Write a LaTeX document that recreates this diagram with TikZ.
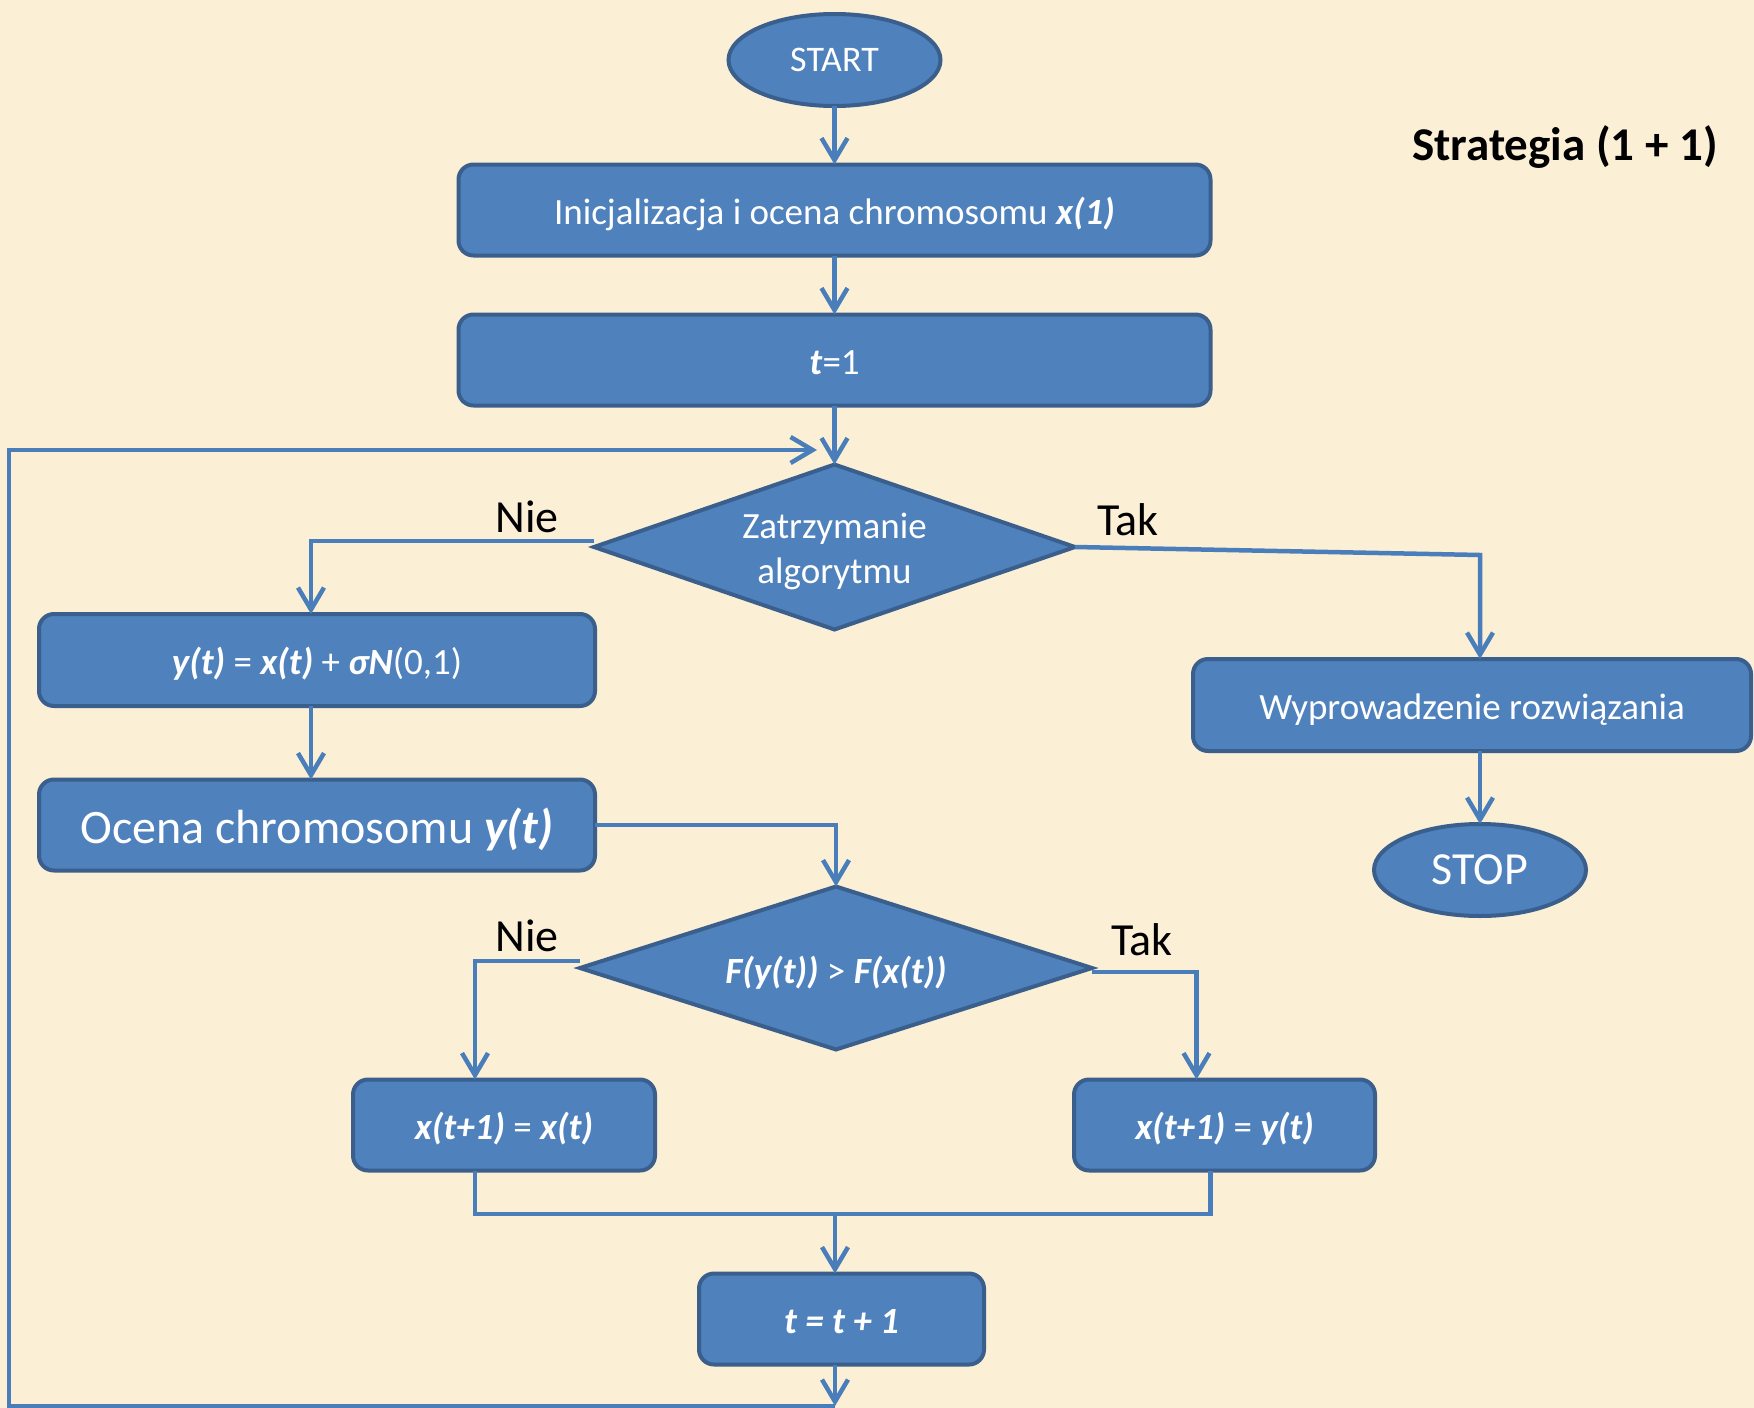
\documentclass[tikz,border=0pt]{standalone}
\usepackage{fontspec}
\setmainfont{Carlito}
\usetikzlibrary{shapes.geometric,arrows.meta}

\definecolor{paper}{HTML}{FBEFD6}
\definecolor{boxfill}{HTML}{4F81BD}
\definecolor{boxline}{HTML}{3A5F8C}
\definecolor{wire}{HTML}{4A7EBB}

\newcommand{\bi}[1]{\textbf{\textit{#1}}}

\begin{document}
\begin{tikzpicture}[x=1pt,y=-1pt,
  every node/.style={inner sep=0pt, outer sep=0pt},
  block/.style={rectangle, rounded corners=15pt, fill=boxfill, draw=boxline,
    line width=4pt, text=white, align=center, text height=28pt, text depth=0pt,
    font=\fontsize{37}{45}\selectfont},
  terminal/.style={ellipse, fill=boxfill, draw=boxline, line width=4pt,
    text=white, minimum width=212pt, minimum height=92pt},
  decision/.style={diamond, fill=boxfill, draw=boxline, line width=4pt},
  dtext/.style={text=white, align=center, yshift=-4.5pt,
    font=\fontsize{37}{45}\selectfont},
  branch/.style={text=black, font=\fontsize{46}{50}\selectfont},
  wire/.style={draw=wire, line width=4.5pt},
  flow/.style={wire, -{Straight Barb[length=22pt,width=26pt]}}
]
\useasboundingbox[fill=paper] (0,0) rectangle (1754,1408);

% title
\node[font=\bfseries\fontsize{47}{52}\selectfont] (title) at (1565,147) {Strategia (1 + 1)};

% nodes
\node[terminal, font=\fontsize{36}{40}\selectfont] (start) at (834.5,60) {START};
\node[block, minimum width=752pt, minimum height=91pt] (init) at (834.5,210)
  {Inicjalizacja i ocena chromosomu \bi{x(1)}};
\node[block, minimum width=752pt, minimum height=91pt] (tone) at (834.5,360)
  {\bi{t}=1};
\node[decision, minimum width=481pt, minimum height=165pt] (stopq) at (834.5,547) {};
\node[dtext] (stopqt) at (stopq.center) {Zatrzymanie\\algorytmu};

\node[block, minimum width=556pt, minimum height=92pt] (mut) at (317,660)
  {\bi{y(t)} = \bi{x(t)} + \bi{σN}(0,1)};
\node[block, minimum width=556pt, minimum height=91pt, text height=36pt,
  font=\fontsize{48}{52}\selectfont] (eval) at (317,825)
  {Ocena chromosomu \bi{y(t)}};

\node[block, minimum width=558pt, minimum height=92pt] (out) at (1472,705)
  {Wyprowadzenie rozwiązania};
\node[terminal, font=\fontsize{46}{50}\selectfont] (stop) at (1480,870) {STOP};

\node[decision, minimum width=512pt, minimum height=163pt] (cmp) at (836,968) {};
\node[dtext] (cmpt) at (cmp.center) {\bi{F(y(t))} > \bi{F(x(t))}};

\node[block, minimum width=302pt, minimum height=91pt] (keep) at (504,1125)
  {\bi{x(t+1)} = \bi{x(t)}};
\node[block, minimum width=301pt, minimum height=91pt] (take) at (1224.5,1125)
  {\bi{x(t+1)} = \bi{y(t)}};
\node[block, minimum width=285pt, minimum height=91pt] (inc) at (841.5,1319)
  {\bi{t = t + 1}};

% branch labels
\node[branch] (nie1) at (527,517) {Nie};
\node[branch] (tak1) at (1128,520) {Tak};
\node[branch] (nie2) at (527,936) {Nie};
\node[branch] (tak2) at (1142,940) {Tak};

% helper points
\coordinate (takbend) at (1480,555);
\coordinate (merge) at (835,1214);
\coordinate (loopin) at (817,450);
\coordinate (bottom) at (835,1406);

% connectors
\draw[flow] (start.south) -- (init.north);
\draw[flow] (init.south) -- (tone.north);
\draw[flow] (tone.south) -- (stopq.north);
\draw[flow] ([yshift=6pt]stopq.west) -| ([xshift=-6pt]mut.north);
\draw[flow] ([xshift=-6pt]mut.south) -- ([xshift=-6pt]eval.north);
\draw[flow] (stopq.east) -- (takbend) -- (takbend |- out.north);
\draw[flow] (out.south -| stop.north) -- (stop.north);
\draw[flow] (eval.east) -| (cmp.north);
\draw[flow] ([yshift=7pt]cmp.west) -| ([xshift=-29pt]keep.north);
\draw[flow] ([yshift=-4pt]cmp.east) -| ([xshift=-28pt]take.north);
\draw[wire] ([xshift=-29pt]keep.south) |- (merge) -| ([xshift=-14pt]take.south);
\draw[flow] (merge) -- (merge |- inc.north);
\draw[flow] (inc.south -| bottom) -- (bottom);
\draw[flow] (bottom) -- (9,1406) -- (9,450) -- (loopin);

\end{tikzpicture}
\end{document}
